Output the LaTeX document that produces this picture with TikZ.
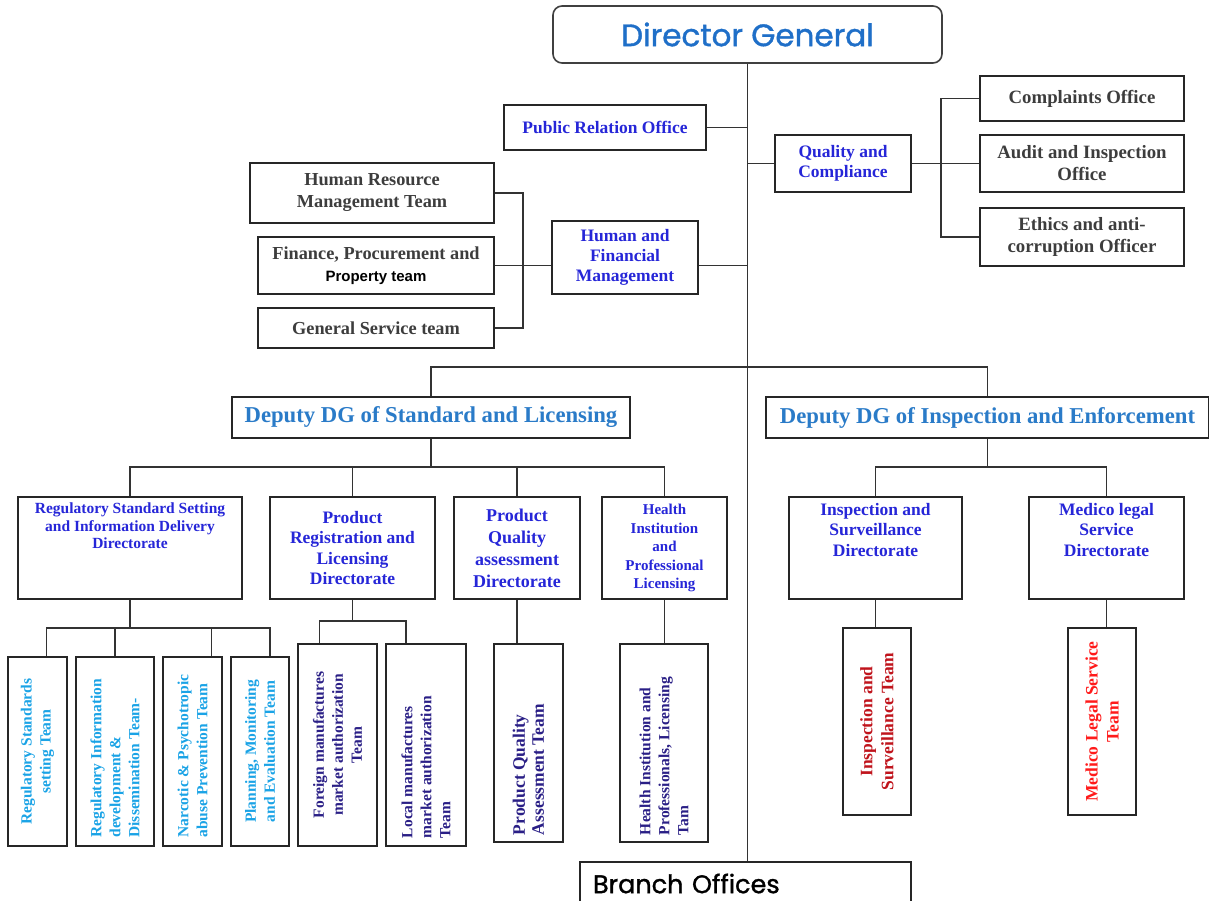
\documentclass[tikz,border=0pt]{standalone}
\usepackage{fontspec}
\setmainfont{Liberation Serif}
\newfontfamily\comicfont{Poppins}[FakeBold=1.2]
\newfontfamily\propfont{Liberation Sans}
\usetikzlibrary{positioning,calc}
\definecolor{dgblue}{HTML}{1F6FC8}
\definecolor{depblue}{HTML}{2A7BC8}
\definecolor{dirblue}{HTML}{2626D8}
\definecolor{teamsky}{HTML}{1AA3E6}
\definecolor{teamnavy}{HTML}{2A1F86}
\definecolor{txtgrey}{HTML}{3D3D3D}
\definecolor{insred}{HTML}{C0141C}
\definecolor{medred}{HTML}{FF1A1A}
\tikzset{
  orgbox/.style={draw=black!85, line width=1.6pt, fill=white, inner sep=2pt,
                 align=center, font=\bfseries},
  dgbox/.style={orgbox, draw=black!75, rounded corners=9pt, text=dgblue,
                font=\comicfont\fontsize{31}{34}\selectfont},
  greybox/.style={orgbox, text=txtgrey, font=\bfseries\fontsize{18.3}{22}\selectfont},
  greyboxR/.style={orgbox, text=txtgrey, font=\bfseries\fontsize{18.8}{22}\selectfont},
  bluebox/.style={orgbox, text=dirblue, font=\bfseries\fontsize{17.5}{20}\selectfont},
  depbox/.style={orgbox, text=depblue, font=\bfseries\fontsize{22.7}{24}\selectfont},
  dirbox/.style={orgbox, text=dirblue, minimum height=102,
                 font=\bfseries\fontsize{17.5}{20.5}\selectfont},
  teambox/.style={orgbox, inner sep=0pt, font=\bfseries\fontsize{15.5}{19}\selectfont},
  link/.style={line width=1.3pt, draw=black!80}}
\newcommand{\vtext}[3][\centering]{\rotatebox{90}{\parbox{#2pt}{#1#3}}}
\newcommand{\toptext}[3]{\parbox[c][#2pt][t]{#1pt}{\centering#3}}

\begin{document}
\begin{tikzpicture}[x=1pt, y=-1pt]
    \fill[white] (0,0) rectangle (1209,901);
    \path[use as bounding box] (0,0) rectangle (1209,901);
    % top of the chart
    \node[dgbox, minimum width=389, minimum height=57] (dg) at (747.5,34.5) {\raisebox{-4pt}{Director General}};
    \node[bluebox, minimum width=202, minimum height=45] (pro) at (605,127.5) {Public Relation Office};
    \node[bluebox, minimum width=136, minimum height=57] (qc) at (843,163.5) {Quality and\\Compliance};
    \node[greyboxR, minimum width=204, minimum height=45] (comp) at (1082,98.5) {Complaints Office};
    \node[greyboxR, minimum width=204, minimum height=57] (audit) at (1082,163.5) {Audit and Inspection\\Office};
    \node[greyboxR, minimum width=204, minimum height=58] (ethics) at (1082,237) {Ethics and anti-\\corruption Officer};
    \node[bluebox, minimum width=146, minimum height=73] (hfm) at (625,257.5) {Human and\\Financial\\Management};
    \node[greybox, minimum width=244, minimum height=60] (hr) at (372,193) {Human Resource\\Management Team};
    \node[greybox, minimum width=236, minimum height=57] (fin) at (376,265.5)
      {Finance, Procurement and\\{\propfont\fontsize{15}{17}\selectfont\color{black}Property team}};
    \node[greybox, minimum width=236, minimum height=40] (gs) at (376,328) {General Service team};
    % deputies
    \node[depbox, minimum width=398, minimum height=41] (dsl) at (431,417.5) {Deputy DG of Standard and Licensing};
    \node[depbox, minimum width=443, minimum height=41] (die) at (987.5,417.5) {Deputy DG of Inspection and Enforcement};
    % directorates
    \node[dirbox, minimum width=224] (rss) at (130,548)
      {\toptext{215}{90}{\fontsize{15.5}{17.5}\selectfont Regulatory Standard Setting\\and Information Delivery\\Directorate}};
    \node[dirbox, minimum width=165] (prl) at (352.5,548) {Product\\Registration and\\Licensing\\Directorate};
    \node[dirbox, minimum width=126, font=\bfseries\fontsize{18}{22}\selectfont] (pqa) at (517,548)
      {Product\\Quality\\assessment\\Directorate};
    \node[dirbox, minimum width=125, font=\bfseries\fontsize{15}{18.5}\selectfont] (hipl) at (664.5,548)
      {Health\\Institution\\and\\Professional\\Licensing};
    \node[dirbox, minimum width=173] (isd) at (875.5,548) {\toptext{165}{90}{Inspection and\\Surveillance\\Directorate}};
    \node[dirbox, minimum width=155] (mls) at (1106.5,548) {\toptext{148}{90}{Medico legal\\Service\\Directorate}};
    % teams
    \node[teambox, text=teamsky, minimum width=59, minimum height=189] (t1) at (37.5,751.5)
      {\vtext{176}{Regulatory Standards\\setting Team}};
    \node[teambox, text=teamsky, minimum width=78, minimum height=189] (t2) at (115,751.5)
      {\vtext[\raggedright]{172}{Regulatory Information\\development \&\\Dissemination Team-}};
    \node[teambox, text=teamsky, minimum width=59, minimum height=189] (t3) at (192.5,751.5)
      {\vtext[\raggedright]{172}{Narcotic \& Psychotropic\\abuse Prevention Team}};
    \node[teambox, text=teamsky, minimum width=58, minimum height=189] (t4) at (260,751.5)
      {\vtext{176}{Planning, Monitoring\\and Evaluation Team}};
    \node[teambox, text=teamnavy, minimum width=79, minimum height=202] (t5) at (337.5,745)
      {\vtext{186}{Foreign manufactures\\market authorization\\Team}};
    \node[teambox, text=teamnavy, minimum width=80, minimum height=202] (t6) at (426,745)
      {\vtext[\raggedright]{186}{Local manufactures\\market authorization\\Team}};
    \node[teambox, text=teamnavy, minimum width=69, minimum height=198,
          font=\bfseries\fontsize{17.5}{19}\selectfont] (t7) at (528.5,743)
      {\vtext[\raggedright]{184}{Product Quality\\Assessment Team}};
    \node[teambox, text=teamnavy, minimum width=88, minimum height=198] (t8) at (664,743)
      {\vtext[\raggedright]{184}{Health Institution and\\Professionals, Licensing\\Tam}};
    \node[teambox, text=insred, minimum width=68, minimum height=187,
          font=\bfseries\fontsize{17.5}{21}\selectfont] (t9) at (877,721.5)
      {\vtext{176}{Inspection and\\Surveillance Team}};
    \node[teambox, text=medred, minimum width=68, minimum height=187,
          font=\bfseries\fontsize{17.5}{21}\selectfont] (t10) at (1102,721.5)
      {\vtext{176}{Medico Legal Service\\Team}};
    \node[orgbox, minimum width=331, minimum height=43, text width=305, align=left,
          font=\comicfont\fontsize{25.5}{27}\selectfont] (br) at (745.5,883.5) {\raisebox{-3pt}{Branch Offices}};
    % bus points
    \coordinate (split) at (746,367);
    \coordinate (hbus) at (523,0);
    \coordinate (qbus) at (941,0);
    \coordinate (slbar) at (0,467);
    \coordinate (rbar) at (0,628);
    \coordinate (pbar) at (0,621);
    \coordinate (t1top) at ([xshift=9pt]t1.north);
    \coordinate (t3top) at ([xshift=19pt]t3.north);
    \coordinate (t4top) at ([xshift=10pt]t4.north);
    \coordinate (t5top) at ([xshift=-18pt]t5.north);
    \coordinate (t6top) at ([xshift=-20pt]t6.north);
    % connectors
    \draw[link] (dg.south) -- (dg.south |- br.north);
    \draw[link] (pro.east) -- (pro.east -| dg.south);
    \draw[link] (qc.west) -- (qc.west -| dg.south);
    \draw[link] (fin.east -| hfm.east) -- (fin.east -| dg.south);
    \draw[link] (fin.east) -- (fin.east -| hfm.west);
    \draw[link] (hr.east) -| (hbus |- gs.east) -- (gs.east);
    \draw[link] (qc.east) -- (qc.east -| audit.west);
    \draw[link] (comp.west) -| (qbus |- ethics.west) -- (ethics.west);
    \draw[link] (dsl.north) |- (split) -| (die.north);
    \draw[link] (dsl.south) -- (dsl.south |- slbar);
    \draw[link] (rss.north) |- (hipl.north |- slbar) -- (hipl.north);
    \draw[link] (prl.north) -- (prl.north |- slbar);
    \draw[link] (pqa.north) -- (pqa.north |- slbar);
    \draw[link] (die.south) -- (die.south |- slbar);
    \draw[link] (isd.north) |- (mls.north |- slbar) -- (mls.north);
    \draw[link] (rss.south) -- (rss.south |- rbar);
    \draw[link] (t1top) |- (t4top |- rbar) -- (t4top);
    \draw[link] (t2.north) -- (t2.north |- rbar);
    \draw[link] (t3top) -- (t3top |- rbar);
    \draw[link] (prl.south) -- (prl.south |- pbar);
    \draw[link] (t5top) |- (t6top |- pbar) -- (t6top);
    \draw[link] (pqa.south) -- (pqa.south |- t7.north);
    \draw[link] (hipl.south) -- (hipl.south |- t8.north);
    \draw[link] (isd.south) -- (isd.south |- t9.north);
    \draw[link] (mls.south) -- (mls.south |- t10.north);
  \end{tikzpicture}
\end{document}
